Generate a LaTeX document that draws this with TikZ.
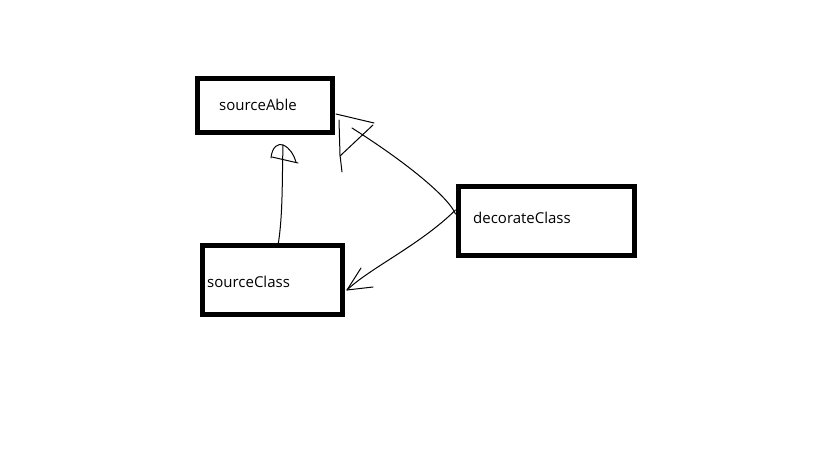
\documentclass[tikz,border=0pt]{standalone}
\usepackage{fontspec}
\setmainfont{Open Sans}
\begin{document}
\begin{tikzpicture}[x=1pt,y=-1pt,
  box/.style={draw=black,line width=5pt,rectangle,inner sep=0pt,outer sep=0pt},
  lbl/.style={anchor=west,inner sep=0pt,font=\fontsize{15}{17}\selectfont},
  wire/.style={draw=black,line width=1pt,line cap=round,line join=round}]
\useasboundingbox[fill=white] (0,0) rectangle (819,460);
% boxes
\node[box,minimum width=135pt,minimum height=54pt] (sa) at (265,105.5) {};
\node[box,minimum width=140pt,minimum height=69pt] (sc) at (272.5,280) {};
\node[box,minimum width=176pt,minimum height=69pt] (dc) at (546.5,221) {};
% labels
\node[lbl] (saT) at (219,105) {sourceAble};
\node[lbl] (scT) at (207,282) {sourceClass};
\node[lbl] (dcT) at (473,218) {decorateClass};
% free ends
\coordinate (e1) at (283,145);
\coordinate (e2) at (352,128);
\coordinate (e3) at (347,290);
% sourceClass -> sourceAble
\draw[wire] ([xshift=5.5pt]sc.north) .. controls (283,215) and (282,180) .. (e1);
\draw[wire] (271,158) .. controls (272,146) and (279,143) .. (e1) .. controls (290,148) and (294,155) .. (296,162);
\draw[wire] (272,157) -- (298,163);
% decorateClass -> sourceAble
\draw[wire] ([xshift=-3pt,yshift=7pt]dc.west) .. controls (450,200) and (415,168) .. (e2);
\draw[wire] (336,114) -- (374,123);
\draw[wire] (339,120) -- (340,155) -- (342,172);
\draw[wire] (340,156) -- (373,125);
% decorateClass -> sourceClass
\draw[wire] ([xshift=-3pt,yshift=11pt]dc.west) .. controls (420,245) and (370,268) .. (e3);
\draw[wire] (e3) -- (361,268);
\draw[wire] (e3) -- (373,287);
\end{tikzpicture}
\end{document}
